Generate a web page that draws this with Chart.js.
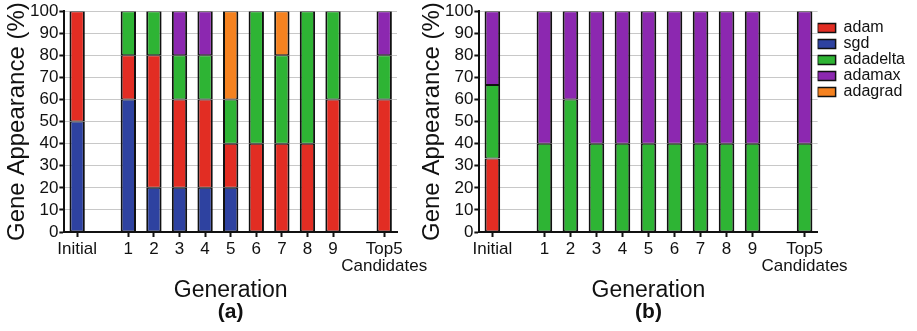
<!DOCTYPE html>
<html>
<head>
<meta charset="utf-8">
<script src="https://cdn.jsdelivr.net/npm/chart.js@4"></script>
<style>
  body { margin: 0; background: #fff; }
  .panel { position: absolute; top: 0; height: 331px; }
  #wrapA { left: 0; width: 460px; z-index: 2; }
  #wrapB { left: 405px; width: 512px; z-index: 1; }
</style>
</head>
<body>
<div class="panel" id="wrapA"><canvas id="chartA" width="460" height="331"></canvas></div>
<div class="panel" id="wrapB"><canvas id="chartB" width="512" height="331"></canvas></div>
<script>
const categories = ['Initial', '', '1', '2', '3', '4', '5', '6', '7', '8', '9', ' ', ['Top5', 'Candidates']];
const yTicks = [0, 10, 20, 30, 40, 50, 60, 70, 80, 90, 100];
const legendOrder = ['adam', 'sgd', 'adadelta', 'adamax', 'adagrad'];
const stackOrder = ['sgd', 'adam', 'adadelta', 'adamax', 'adagrad'];

// panel (a)
const sgdA      = [50, null, 60, 20, 20, 20, 20, null, null, null, null, null, null];
const adamA     = [50, null, 20, 60, 40, 40, 20, 40, 40, 40, 60, null, 60];
const adadeltaA = [null, null, 20, 20, 20, 20, 20, 60, 40, 60, 40, null, 20];
const adamaxA   = [null, null, null, null, 20, 20, null, null, null, null, null, null, 20];
const adagradA  = [null, null, null, null, null, null, 40, null, 20, null, null, null, null];

// panel (b)
const sgdB      = [null, null, null, null, null, null, null, null, null, null, null, null, null];
const adamB     = [33.3, null, null, null, null, null, null, null, null, null, null, null, null];
const adadeltaB = [33.3, null, 40, 60, 40, 40, 40, 40, 40, 40, 40, null, 40];
const adamaxB   = [33.4, null, 60, 40, 60, 60, 60, 60, 60, 60, 60, null, 60];
const adagradB  = [null, null, null, null, null, null, null, null, null, null, null, null, null];

const colors = {
    adam: 'rgb(226, 45, 35)',
    sgd: 'rgb(46, 66, 160)',
    adadelta: 'rgb(46, 180, 52)',
    adamax: 'rgb(140, 40, 176)',
    adagrad: 'rgb(245, 130, 32)'
};

const FONT = "'Liberation Sans', Arial, Helvetica, sans-serif";

function makeDatasets(series) {
    return stackOrder.map(name => ({
        label: name,
        data: series[name],
        backgroundColor: colors[name],
        borderColor: '#111',
        borderWidth: { left: 2, right: 2, top: 1, bottom: 1 },
        borderSkipped: false,
        categoryPercentage: 1.0,
        barPercentage: 0.6
    }));
}

function makeChart(canvasId, series, letter, showLegend, padding) {
    const ctx = document.getElementById(canvasId).getContext('2d');
    return new Chart(ctx, {
        type: 'bar',
        data: {
            labels: categories,
            datasets: makeDatasets(series)
        },
        options: {
            responsive: false,
            animation: false,
            layout: { padding: padding },
            scales: {
                x: {
                    stacked: true,
                    afterFit: scale => { scale.paddingRight = 0; scale.paddingLeft = 0; },
                    grid: {
                        display: true,
                        drawOnChartArea: false,
                        offset: false,
                        tickLength: 5,
                        tickWidth: 2,
                        tickColor: c => (c.tick && String(c.tick.label).trim() === '' ? 'rgba(0,0,0,0)' : '#111')
                    },
                    border: { color: '#111', width: 2 },
                    ticks: {
                        autoSkip: false,
                        maxRotation: 0,
                        padding: 4,
                        color: '#111',
                        font: { family: FONT, size: 17, lineHeight: 1.0 }
                    },
                    title: {
                        display: true,
                        text: 'Generation',
                        color: '#111',
                        padding: { top: 0, bottom: 0 },
                        font: { family: FONT, size: 23, lineHeight: 1.0 }
                    }
                },
                y: {
                    stacked: true,
                    min: 0,
                    max: 100,
                    afterBuildTicks: axis => { axis.ticks = yTicks.map(v => ({ value: v })); },
                    grid: {
                        color: '#c8c8c8',
                        lineWidth: 1,
                        borderDash: [2, 2],
                        tickBorderDash: [],
                        tickColor: '#111',
                        tickWidth: 2,
                        tickLength: 5
                    },
                    border: { color: '#111', width: 2 },
                    ticks: {
                        autoSkip: false,
                        padding: 1,
                        color: '#111',
                        font: { family: FONT, size: 17 }
                    },
                    title: {
                        display: true,
                        text: 'Gene Appearance (%)',
                        color: '#111',
                        padding: { top: 0, bottom: 0 },
                        font: { family: FONT, size: 24, lineHeight: 1.0 }
                    }
                }
            },
            plugins: {
                legend: {
                    display: showLegend,
                    position: 'right',
                    align: 'start',
                    title: {
                        display: true,
                        text: ' ',
                        padding: { top: 8, bottom: 0 },
                        font: { family: FONT, size: 10, lineHeight: 1.0 }
                    },
                    labels: {
                        boxWidth: 18,
                        boxHeight: 9,
                        padding: 0,
                        color: '#111',
                        font: { family: FONT, size: 16 },
                        sort: (a, b) => legendOrder.indexOf(a.text) - legendOrder.indexOf(b.text)
                    },
                    onClick: null
                },
                title: {
                    display: true,
                    position: 'bottom',
                    fullSize: false,
                    text: letter,
                    color: '#111',
                    padding: { top: 0, bottom: 4 },
                    font: { family: FONT, size: 21, weight: 'bold', lineHeight: 1.0 }
                },
                tooltip: { enabled: false }
            }
        }
    });
}

makeChart('chartA',
    { sgd: sgdA, adam: adamA, adadelta: adadeltaA, adamax: adamaxA, adagrad: adagradA },
    '(a)', false, { left: 5, right: 63, top: 2, bottom: 4 });

makeChart('chartB',
    { sgd: sgdB, adam: adamB, adadelta: adadeltaB, adamax: adamaxB, adagrad: adagradB },
    '(b)', true, { left: 15, right: 2, top: 2, bottom: 4 });
</script>
</body>
</html>
